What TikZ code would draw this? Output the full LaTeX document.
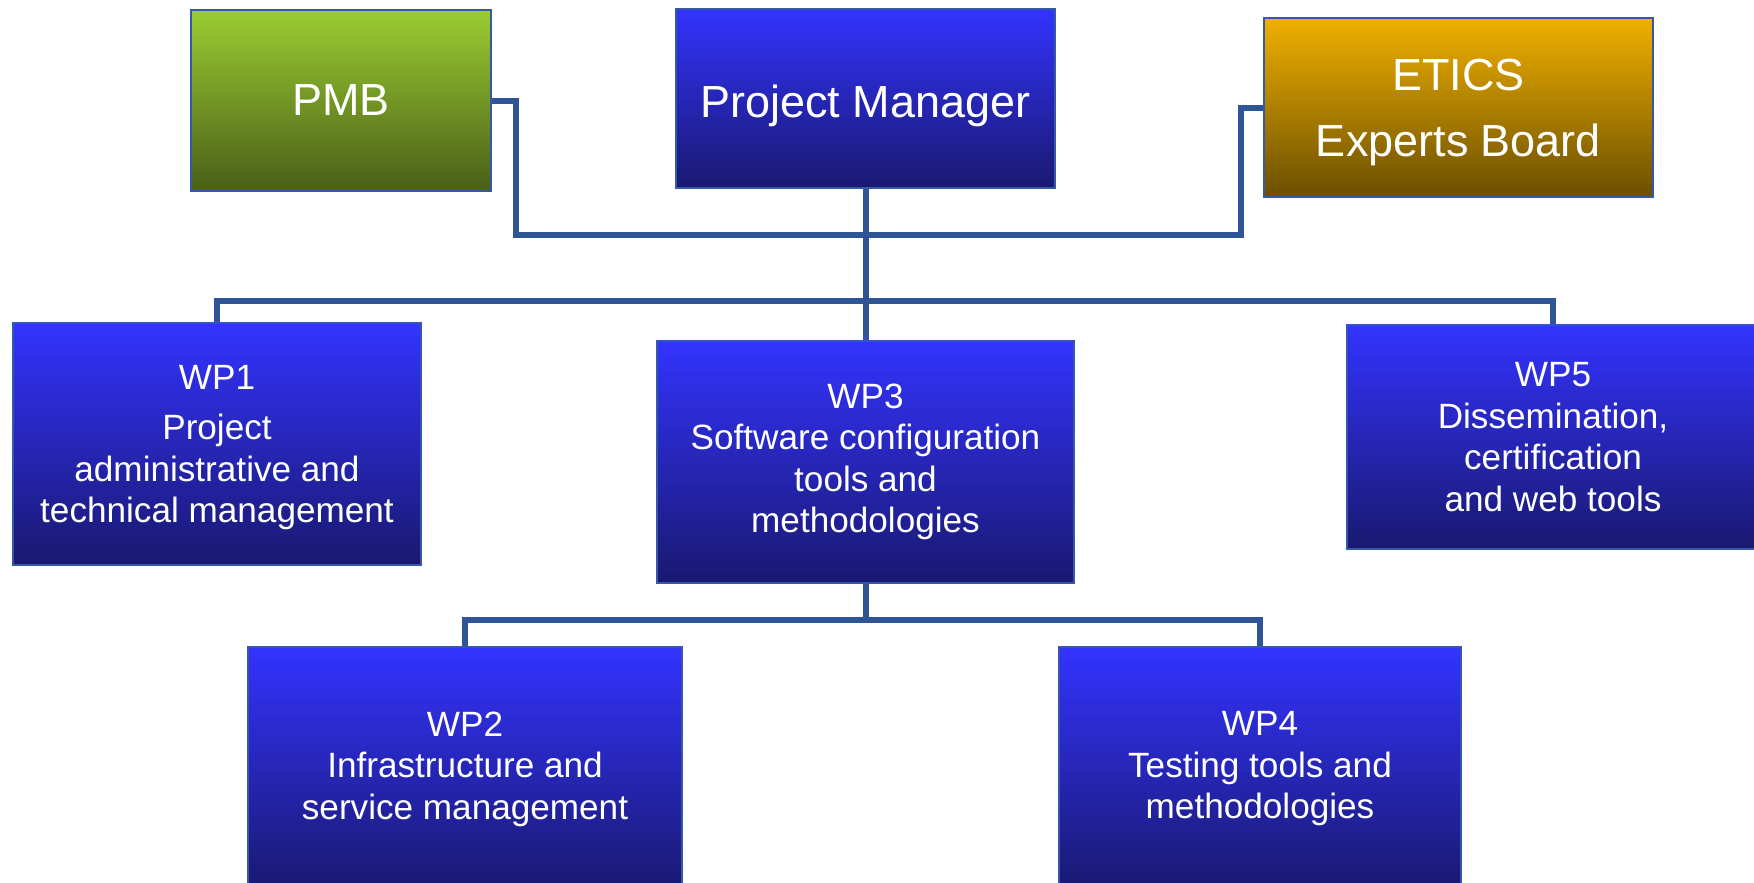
\documentclass[tikz,border=0pt]{standalone}
\usepackage{fontspec}
\setsansfont{Liberation Sans}
\usetikzlibrary{positioning}
\definecolor{cBlueT}{HTML}{3333FF}
\definecolor{cBlueB}{HTML}{191970}
\definecolor{cGreenT}{HTML}{9ACD32}
\definecolor{cGreenB}{HTML}{4A5E18}
\definecolor{cGoldT}{HTML}{F0B000}
\definecolor{cGoldB}{HTML}{6B4F00}
\definecolor{cEdge}{HTML}{3558A8}
\definecolor{cLine}{HTML}{2F5597}
\tikzset{
  font=\sffamily,
  orgbox/.style={draw=cEdge, line width=0.2mm, text=white, align=center, inner sep=2pt},
  headbox/.style={orgbox, font=\sffamily\fontsize{12.8}{18.8}\selectfont},
  wpbox/.style={orgbox, top color=cBlueT, bottom color=cBlueB, font=\sffamily\fontsize{10}{11.8}\selectfont},
  nodepth/.style={text depth=0pt},
  link/.style={draw=cLine, line width=0.6mm},
}

\begin{document}
\begin{tikzpicture}[x=0.1mm, y=-0.1mm]
\useasboundingbox (0,0) rectangle (1754,882);
% top row
\node[headbox, top color=cBlueT, bottom color=cBlueB, minimum width=37.9mm, minimum height=17.9mm, nodepth, text height=3.7mm] (pm) at (865.5,98.5) {Project Manager};
\node[headbox, top color=cGreenT, bottom color=cGreenB, minimum width=30mm, minimum height=18.1mm] (pmb) at (341,100.5) {PMB};
\node[headbox, top color=cGoldT, bottom color=cGoldB, minimum width=38.9mm, minimum height=17.9mm, nodepth] (etics) at (1458.5,107.5) {ETICS\\Experts Board};
% work packages
\node[wpbox, minimum width=41.7mm, minimum height=24.2mm, below=15.1mm of pm] (wp3){WP3\\Software configuration\\tools and\\methodologies};
\node[wpbox, minimum width=40.8mm, minimum height=24.2mm, nodepth] (wp1) at (217,444) {WP1\\[2.5pt]Project\\administrative and\\technical management};
\node[wpbox, minimum width=41.2mm, minimum height=22.4mm] (wp5) at (1553,437) {WP5\\Dissemination,\\certification\\and web tools};
\node[wpbox, minimum width=43.4mm, minimum height=24.4mm, below=6.2mm of wp3, xshift=-40.05mm] (wp2){WP2\\Infrastructure and\\service management};
\node[wpbox, minimum width=40.2mm, minimum height=24.4mm, below=6.2mm of wp3, xshift=39.45mm] (wp4){WP4\\Testing tools and\\methodologies};
% connectors
\coordinate (b1) at (865.5,235);
\coordinate (b2) at (865.5,301);
\coordinate (b3) at (865.5,620);
\draw[link] (pmb.east) -- ++(24,0) |- (b1) -| ([xshift=-2.2mm]etics.west) -- (etics.west);
\draw[link] (pm.south) -- (wp3.north);
\draw[link] (wp1.north) |- (b2) -| (wp5.north);
\draw[link] (wp3.south) -- (b3);
\draw[link] (wp2.north) |- (b3) -| (wp4.north);
\end{tikzpicture}
\end{document}
